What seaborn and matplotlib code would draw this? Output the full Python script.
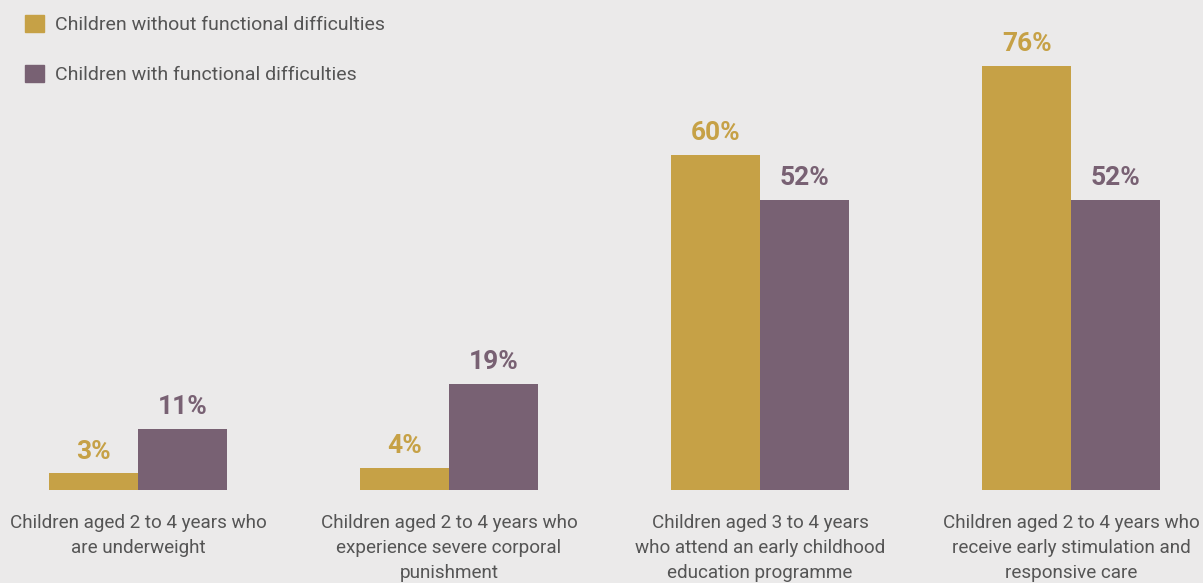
import pandas as pd
import matplotlib.pyplot as plt
import seaborn as sns

categories = [
    "Children aged 2 to 4 years who\nare underweight",
    "Children aged 2 to 4 years who\nexperience severe corporal\npunishment",
    "Children aged 3 to 4 years\nwho attend an early childhood\neducation programme",
    "Children aged 2 to 4 years who\nreceive early stimulation and\nresponsive care",
]
groups = ["Children without functional difficulties", "Children with functional difficulties"]
without_fd = [3, 4, 60, 76]
with_fd = [11, 19, 52, 52]
colors = ["#C6A146", "#786173"]

df = pd.DataFrame({
    "category": categories * 2,
    "group": [groups[0]] * 4 + [groups[1]] * 4,
    "value": without_fd + with_fd,
})

bg = "#EBEAEA"
text_col = "#555555"

sns.set_style("white")
plt.rcParams["font.family"] = ["Roboto", "DejaVu Sans"]

fig = plt.figure(figsize=(12.03, 5.83), dpi=100, facecolor=bg)
ax = fig.add_axes([0, 93 / 583, 1, 490 / 583])
ax.set_facecolor(bg)

sns.barplot(data=df, x="category", y="value", hue="group", palette=colors,
            width=0.57, saturation=1, ax=ax, linewidth=0, legend=False)

ax.set_xlim(-138 / 311, -138 / 311 + 1203 / 311)
ax.set_ylim(0, 490 / 5.58)

for container, col in zip(ax.containers, colors):
    labels = [f"{v:.0f}%" for v in container.datavalues]
    ax.bar_label(container, labels=labels, padding=7, color=col,
                 fontsize=19, fontweight="bold")

ax.set_xlabel("")
ax.set_ylabel("")
ax.set_yticks([])
ax.tick_params(axis="x", length=0, pad=17, labelsize=13.6, labelcolor=text_col)
for lbl in ax.get_xticklabels():
    lbl.set_linespacing(1.5)
    lbl.set_verticalalignment("top")
sns.despine(ax=ax, left=True, bottom=True)

handles = [plt.Rectangle((0, 0), 1, 1, color=c) for c in colors]
fig.legend(handles, groups, loc="upper left", bbox_to_anchor=(25 / 1203, 1 - 15 / 583),
           frameon=False, fontsize=14, labelcolor=text_col, handlelength=1.0,
           handleheight=1.0, handletextpad=0.55, labelspacing=1.55,
           borderpad=0, borderaxespad=0)

fig.savefig("out.png", dpi=100, facecolor=bg)
